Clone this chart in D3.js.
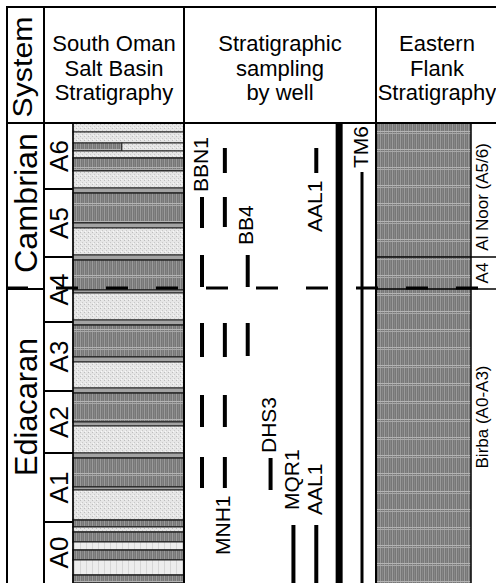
<!DOCTYPE html>
<html>
<head>
<meta charset="utf-8">
<script src="https://cdn.jsdelivr.net/npm/d3@7"></script>
<style>
html, body { margin: 0; padding: 0; background: #fff; }
svg { display: block; font-family: "Liberation Sans", Arial, sans-serif; }
</style>
</head>
<body>
<svg id="chart" width="496" height="583"></svg>
<script>
// depth units: 0 = top of A6, 460 = base of the visible column
const columnBase = 460;

const formations    = ['A6', 'A5', 'A4', 'A3', 'A2', 'A1', 'A0'];
const formationTops = [0, 66, 134, 199, 268, 330, 399];

const systems       = ['Cambrian', 'Ediacaran'];
const systemTops    = [0, 166];
const systemLabelAt = [80, 284];

const eastUnits     = ['Al Noor (A5/6)', 'A4', 'Birba (A0-A3)'];
const eastTops      = [0, 134, 166];
const eastLabelAt   = [74, 150, 294];

// lithology beds, South Oman Salt Basin column
const bedTop  = [0, 9, 20, 28, 35, 48, 65, 70, 100, 105, 132, 137, 167, 170, 197, 202, 234, 239, 265, 270, 299, 303, 330, 335, 364, 367, 397, 404, 409, 419, 427, 437, 452];
const bedBase = [9, 20, 28, 35, 48, 65, 70, 100, 105, 132, 137, 167, 170, 197, 202, 234, 239, 265, 270, 299, 303, 330, 335, 364, 367, 397, 404, 409, 419, 427, 437, 452, 460];
const bedType = ['light', 'light', 'split', 'light', 'dark', 'light', 'gray', 'dark', 'gray', 'light',
                 'gray', 'dark', 'gray', 'light', 'gray', 'dark', 'gray', 'light', 'gray', 'dark',
                 'gray', 'light', 'gray', 'dark', 'gray', 'light', 'dark', 'light', 'dark', 'pale',
                 'dark', 'pale', 'dark'];

// well tracks and sampled intervals
const wells      = ['BBN1', 'MNH1', 'BB4', 'DHS3', 'MQR1', 'AAL1', 'core', 'TM6'];
const sampleWell = ['BBN1', 'BBN1', 'BBN1', 'BBN1', 'BBN1',
                    'MNH1', 'MNH1', 'MNH1', 'MNH1', 'MNH1',
                    'BB4', 'BB4', 'DHS3', 'AAL1', 'AAL1', 'MQR1'];
const sampleTop  = [74, 132, 200, 272, 334, 25, 74, 200, 272, 334, 132, 200, 335, 25, 402, 402];
const sampleBase = [105, 164, 234, 304, 365, 50, 104, 234, 304, 365, 164, 233, 367, 50, 460, 460];
const coreTop    = [0, 49];      // continuous logs: unlabeled core, TM6
const coreBase   = [460, 460];
const coreWell   = ['core', 'TM6'];

const labelWell  = ['BBN1', 'BB4', 'AAL1', 'TM6', 'DHS3', 'MNH1', 'MQR1', 'AAL1'];
const labelFrom  = [69, 122, 109, 45, 330, 432, 387, 392];

const headerSouth = ['South Oman', 'Salt Basin', 'Stratigraphy'];
const headerWells = ['Stratigraphic', 'sampling', 'by well'];
const headerEast  = ['Eastern', 'Flank', 'Stratigraphy'];

const svg = d3.select('#chart');
const defs = svg.append('defs');

// fills
const dark = defs.append('pattern').attr('id', 'dark')
    .attr('patternUnits', 'userSpaceOnUse').attr('width', 4).attr('height', 18);
dark.append('rect').attr('width', 4).attr('height', 18).attr('fill', '#777');
dark.append('rect').attr('x', 0).attr('width', 1).attr('height', 18).attr('fill', '#9a9a9a');
dark.append('rect').attr('x', 2).attr('width', 1).attr('height', 18).attr('fill', '#868686');
dark.append('rect').attr('y', 5).attr('width', 4).attr('height', 1).attr('fill', '#b4b4b4');
dark.append('rect').attr('y', 7).attr('width', 4).attr('height', 1).attr('fill', '#a8a8a8');

const light = defs.append('pattern').attr('id', 'light')
    .attr('patternUnits', 'userSpaceOnUse').attr('width', 4).attr('height', 4);
light.append('rect').attr('width', 4).attr('height', 4).attr('fill', '#e6e6e6');
light.append('rect').attr('x', 0).attr('y', 0).attr('width', 1).attr('height', 1).attr('fill', '#bdbdbd');
light.append('rect').attr('x', 2).attr('y', 2).attr('width', 1).attr('height', 1).attr('fill', '#c8c8c8');
light.append('rect').attr('x', 1).attr('y', 3).attr('width', 1).attr('height', 1).attr('fill', '#f8f8f8');

const pale = defs.append('pattern').attr('id', 'pale')
    .attr('patternUnits', 'userSpaceOnUse').attr('width', 6).attr('height', 4);
pale.append('rect').attr('width', 6).attr('height', 4).attr('fill', '#ededed');
pale.append('rect').attr('x', 2).attr('width', 1).attr('height', 4).attr('fill', '#d6d6d6');

const fills = { light: 'url(#light)', dark: 'url(#dark)', pale: 'url(#pale)', gray: '#a3a3a3' };

// layout
const frameTop = 6, headBase = 123, frameBottom = 590;
const xSys = [6, 44], xForm = [44, 73], xLith = [73, 184], xWells = [184, 376];
const xEast = [376, 471], xEastLab = [471, 498];

const y = d3.scaleLinear().domain([0, columnBase]).range([headBase, 583]);
const xWell = d3.scalePoint().domain(wells).range([202, 362]);

const g = svg.append('g');

function vtext(sel, x, yy, txt, size, anchor, len) {
    const t = sel.append('text')
        .attr('transform', `translate(${x},${yy}) rotate(-90)`)
        .attr('font-size', size)
        .attr('text-anchor', anchor)
        .attr('fill', '#000')
        .text(txt);
    if (len) t.attr('textLength', len).attr('lengthAdjust', 'spacingAndGlyphs');
    return t;
}

// lithology beds
const beds = bedTop.map((t, i) => ({ top: t, base: bedBase[i], type: bedType[i] }));
const lith = g.append('g');
beds.forEach(b => {
    const y0 = y(b.top), h = y(b.base) - y(b.top);
    if (b.type === 'split') {
        const xm = xLith[0] + (xLith[1] - xLith[0]) * 0.44;
        lith.append('rect').attr('x', xLith[0]).attr('y', y0).attr('width', xm - xLith[0]).attr('height', h)
            .attr('fill', fills.dark).attr('stroke', '#222').attr('stroke-width', 1);
        lith.append('rect').attr('x', xm).attr('y', y0).attr('width', xLith[1] - xm).attr('height', h)
            .attr('fill', fills.light).attr('stroke', '#222').attr('stroke-width', 1);
    } else {
        lith.append('rect').attr('x', xLith[0]).attr('y', y0).attr('width', xLith[1] - xLith[0]).attr('height', h)
            .attr('fill', fills[b.type]).attr('stroke', '#222')
            .attr('stroke-width', b.type === 'dark' ? 1.4 : 1);
    }
});

// eastern flank column
g.append('rect').attr('x', xEast[0]).attr('y', y(0)).attr('width', xEast[1] - xEast[0])
    .attr('height', y(columnBase) - y(0)).attr('fill', fills.dark);
eastTops.slice(1).forEach(t => {
    g.append('line').attr('x1', xEast[0]).attr('x2', xEastLab[1]).attr('y1', y(t)).attr('y2', y(t))
        .attr('stroke', '#000').attr('stroke-width', 1.5);
});
eastUnits.forEach((u, i) => vtext(g, 488, y(eastLabelAt[i]), u, 17, 'middle'));

// formation column
formationTops.slice(1).forEach(t => {
    g.append('line').attr('x1', xForm[0]).attr('x2', xForm[1]).attr('y1', y(t)).attr('y2', y(t))
        .attr('stroke', '#000').attr('stroke-width', 2);
});
formations.forEach((f, i) => {
    const t = formationTops[i], b = i + 1 < formationTops.length ? formationTops[i + 1] : columnBase;
    vtext(g, 68, y((t + b) / 2), f, 26, 'middle');
});

// system column
systemTops.slice(1).forEach(t => {
    g.append('line').attr('x1', xSys[0]).attr('x2', xSys[1]).attr('y1', y(t)).attr('y2', y(t))
        .attr('stroke', '#000').attr('stroke-width', 2);
});
vtext(g, 37, y(systemLabelAt[0]), systems[0], 32, 'middle', 140);
vtext(g, 37, y(systemLabelAt[1]), systems[1], 32, 'middle', 138);

// well samples
const samples = sampleWell.map((w, i) => ({ well: w, top: sampleTop[i], base: sampleBase[i] }));
g.append('g').selectAll('line').data(samples).join('line')
    .attr('x1', d => xWell(d.well)).attr('x2', d => xWell(d.well))
    .attr('y1', d => y(d.top)).attr('y2', d => y(d.base))
    .attr('stroke', '#000').attr('stroke-width', 4);

coreWell.forEach((w, i) => {
    g.append('line').attr('x1', xWell(w)).attr('x2', xWell(w))
        .attr('y1', y(coreTop[i])).attr('y2', y(coreBase[i]))
        .attr('stroke', '#000').attr('stroke-width', w === 'core' ? 7 : 3);
});

labelWell.forEach((w, i) => vtext(g, xWell(w) + 5.5, y(labelFrom[i]), w, 21, 'start'));

// Cambrian / Ediacaran boundary, dashed across the chart
g.append('line').attr('x1', 6).attr('x2', 498).attr('y1', y(systemTops[1]) - 1).attr('y2', y(systemTops[1]) - 1)
    .attr('stroke', '#000').attr('stroke-width', 3).attr('stroke-dasharray', '22,28');

// frame
const frame = g.append('g').attr('stroke', '#000').attr('stroke-width', 2).attr('fill', 'none');
frame.append('line').attr('x1', 6).attr('x2', 498).attr('y1', frameTop + 1).attr('y2', frameTop + 1);
frame.append('line').attr('x1', 6).attr('x2', 498).attr('y1', headBase).attr('y2', headBase);
[7, xSys[1], xLith[1], xWells[1], 498].forEach(x => {
    frame.append('line').attr('x1', x).attr('x2', x).attr('y1', frameTop).attr('y2', frameBottom);
});
[xForm[1], xEast[1]].forEach(x => {
    frame.append('line').attr('x1', x).attr('x2', x).attr('y1', headBase).attr('y2', frameBottom)
        .attr('stroke-width', 1.5);
});

// headers
vtext(g, 32, 67, 'System', 27, 'middle', 101);
function header(lines, cx) {
    lines.forEach((l, i) => {
        g.append('text').attr('x', cx).attr('y', 51 + i * 24.5)
            .attr('text-anchor', 'middle').attr('font-size', 22).attr('fill', '#000').text(l);
    });
}
header(headerSouth, (xSys[1] + xLith[1]) / 2);
header(headerWells, (xWells[0] + xWells[1]) / 2);
header(headerEast, (xEast[0] + xEastLab[1]) / 2);
</script>
</body>
</html>
